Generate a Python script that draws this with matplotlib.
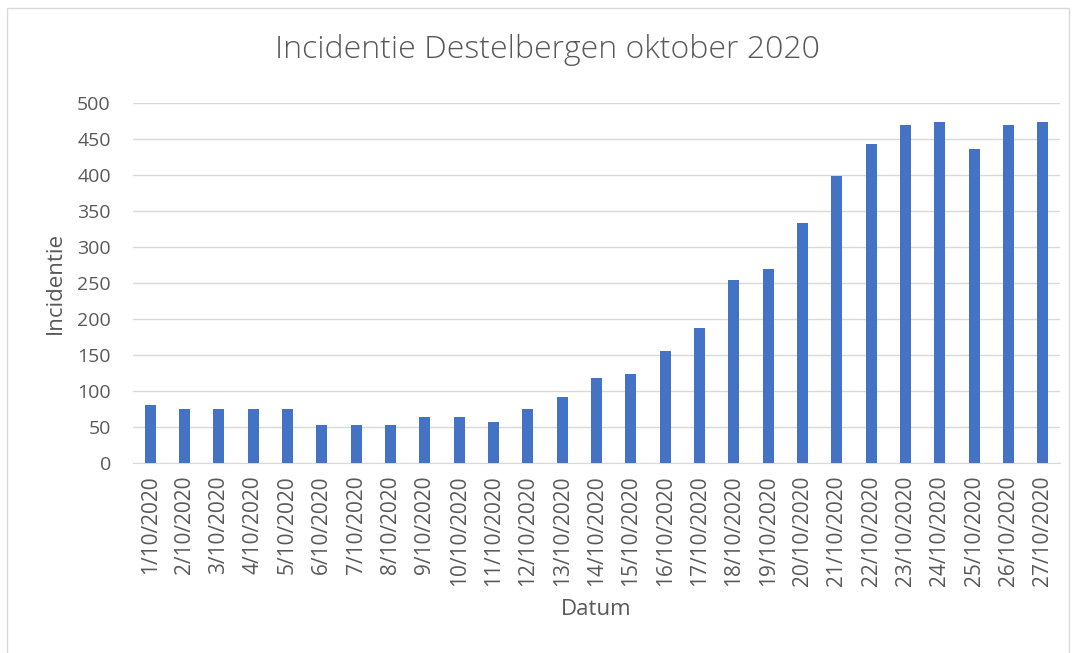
import matplotlib.pyplot as plt
from matplotlib.patches import Rectangle

plt.rcParams['font.family'] = ['Open Sans', 'DejaVu Sans']

# dates and incidence values
datums = [f"{d}/10/2020" for d in range(1, 28)]
incidentie = [80, 75, 75, 75, 75, 53, 53, 53, 64, 64, 57, 75, 91,
              118, 123, 156, 188, 254, 269, 334, 398, 443, 470, 474, 436, 470, 474]

text_color = "#595959"
bar_color = "#4472C4"

fig = plt.figure(figsize=(10.74, 6.53), dpi=100)
ax = fig.add_axes([133 / 1074, 1 - 463 / 653, 927 / 1074, 360 / 653])

x = range(len(datums))
ax.bar(x, incidentie, width=0.32, color=bar_color, zorder=3)

ax.set_xlim(-0.5, len(datums) - 0.5)
ax.set_ylim(0, 500)
ax.set_yticks(range(0, 501, 50))
ax.set_xticks(list(x))
ax.set_xticklabels(datums, rotation=90)
ax.tick_params(axis='both', length=0, colors=text_color, labelsize=14)
ax.tick_params(axis='x', pad=9, labelsize=15)
ax.tick_params(axis='y', pad=16)
ax.grid(axis='y', color="#D9D9D9", linewidth=1, zorder=0)
for side in ["top", "right", "left"]:
    ax.spines[side].set_visible(False)
ax.spines["bottom"].set_color("#D9D9D9")

fig.text(547 / 1074, 1 - 50 / 653, "Incidentie Destelbergen oktober 2020",
         fontsize=23, color=text_color, fontweight='light',
         ha='center', va='center')
ax.set_xlabel("Datum", fontsize=16, color=text_color, labelpad=9)
ax.set_ylabel("Incidentie", fontsize=16, color=text_color, labelpad=8)

# outer chart border (runs off the bottom edge)
fig.patches.append(Rectangle((7 / 1074, -10 / 653), 1062 / 1074, 655 / 653,
                             transform=fig.transFigure, fill=False,
                             edgecolor="#D9D9D9", linewidth=1))

fig.savefig("out.png", dpi=100)
